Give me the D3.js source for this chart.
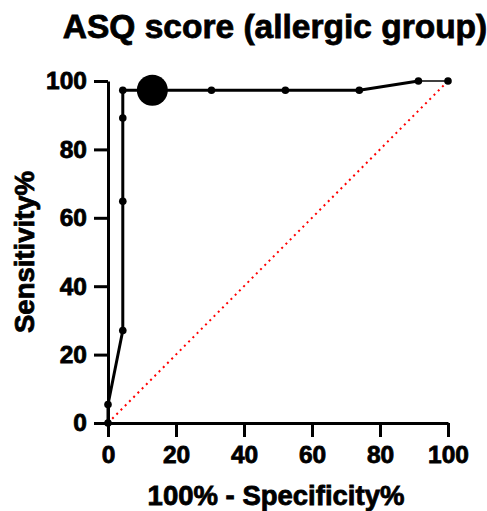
<!DOCTYPE html>
<html><head><meta charset="utf-8">
<script src="https://cdn.jsdelivr.net/npm/d3@7"></script>
<style>body{margin:0;background:#fff}svg{display:block}text{font-family:"Liberation Sans",Arial,sans-serif;font-weight:bold;fill:#000;stroke:#000;stroke-width:0.8px}</style>
</head><body>
<script>
const title = "ASQ score (allergic group)";
const xLabel = "100% - Specificity%";
const yLabel = "Sensitivity%";
const fpr = [0, 0, 4.35, 4.35, 4.35, 4.35, 13.04, 30.43, 52.17, 73.91, 91.30, 100];
const tpr = [0, 5.41, 27.03, 64.86, 89.19, 97.30, 97.30, 97.30, 97.30, 97.30, 100, 100];
const cutoffPoint = [13.04, 97.30];
const xTicks = [0, 20, 40, 60, 80, 100];
const yTicks = [0, 20, 40, 60, 80, 100];

const W = 487, H = 511;
const svg = d3.select("body").append("svg").attr("width", W).attr("height", H);
const x = d3.scaleLinear().domain([0, 100]).range([108, 448]);
const y = d3.scaleLinear().domain([0, 100]).range([423, 81]);

// diagonal reference
svg.append("line").attr("x1", x(0)).attr("y1", y(0)).attr("x2", x(100)).attr("y2", y(100))
  .attr("stroke", "#ff0000").attr("stroke-width", 2).attr("stroke-dasharray", "2,4");

// axes
const xAxis = svg.append("g").attr("transform", `translate(0,${y(0)})`)
  .call(d3.axisBottom(x).tickValues(xTicks).tickSize(14).tickPadding(9).tickSizeOuter(0));
const yAxis = svg.append("g").attr("transform", `translate(${x(0)},0)`)
  .call(d3.axisLeft(y).tickValues(yTicks).tickSize(14).tickPadding(7).tickSizeOuter(0));
[xAxis, yAxis].forEach(g => {
  g.attr("font-size", null).attr("font-family", null);
  g.select(".domain").attr("stroke", "#000").attr("stroke-width", 3);
  g.selectAll(".tick line").attr("stroke", "#000").attr("stroke-width", 3);
  g.selectAll(".tick text").style("font-size", "24.5px").attr("fill", "#000");
});

// ROC line
const pts = fpr.map((v, i) => [v, tpr[i]]);
const n = pts.length;
const line = d3.line().x(d => x(d[0])).y(d => y(d[1]));
svg.append("path").datum(pts.slice(0, n - 1)).attr("d", line)
  .attr("fill", "none").attr("stroke", "#000").attr("stroke-width", 3).attr("stroke-linejoin", "round");
svg.append("path").datum(pts.slice(n - 2)).attr("d", line)
  .attr("fill", "none").attr("stroke", "#000").attr("stroke-width", 1.5);

svg.selectAll("circle.pt").data(pts).enter().append("circle").attr("class", "pt")
  .attr("cx", d => x(d[0])).attr("cy", d => y(d[1])).attr("r", 3.8).attr("fill", "#000");
svg.append("circle").attr("cx", x(cutoffPoint[0])).attr("cy", y(cutoffPoint[1])).attr("r", 15.5).attr("fill", "#000");

// titles
svg.append("text").attr("x", 275).attr("y", 38).attr("text-anchor", "middle").style("font-size", "33.5px").text(title);
svg.append("text").attr("x", 276).attr("y", 505).attr("text-anchor", "middle").style("font-size", "27.5px").text(xLabel);
svg.append("text").attr("transform", "translate(34,252) rotate(-90)").attr("text-anchor", "middle").style("font-size", "27.5px").text(yLabel);
</script>
</body></html>
